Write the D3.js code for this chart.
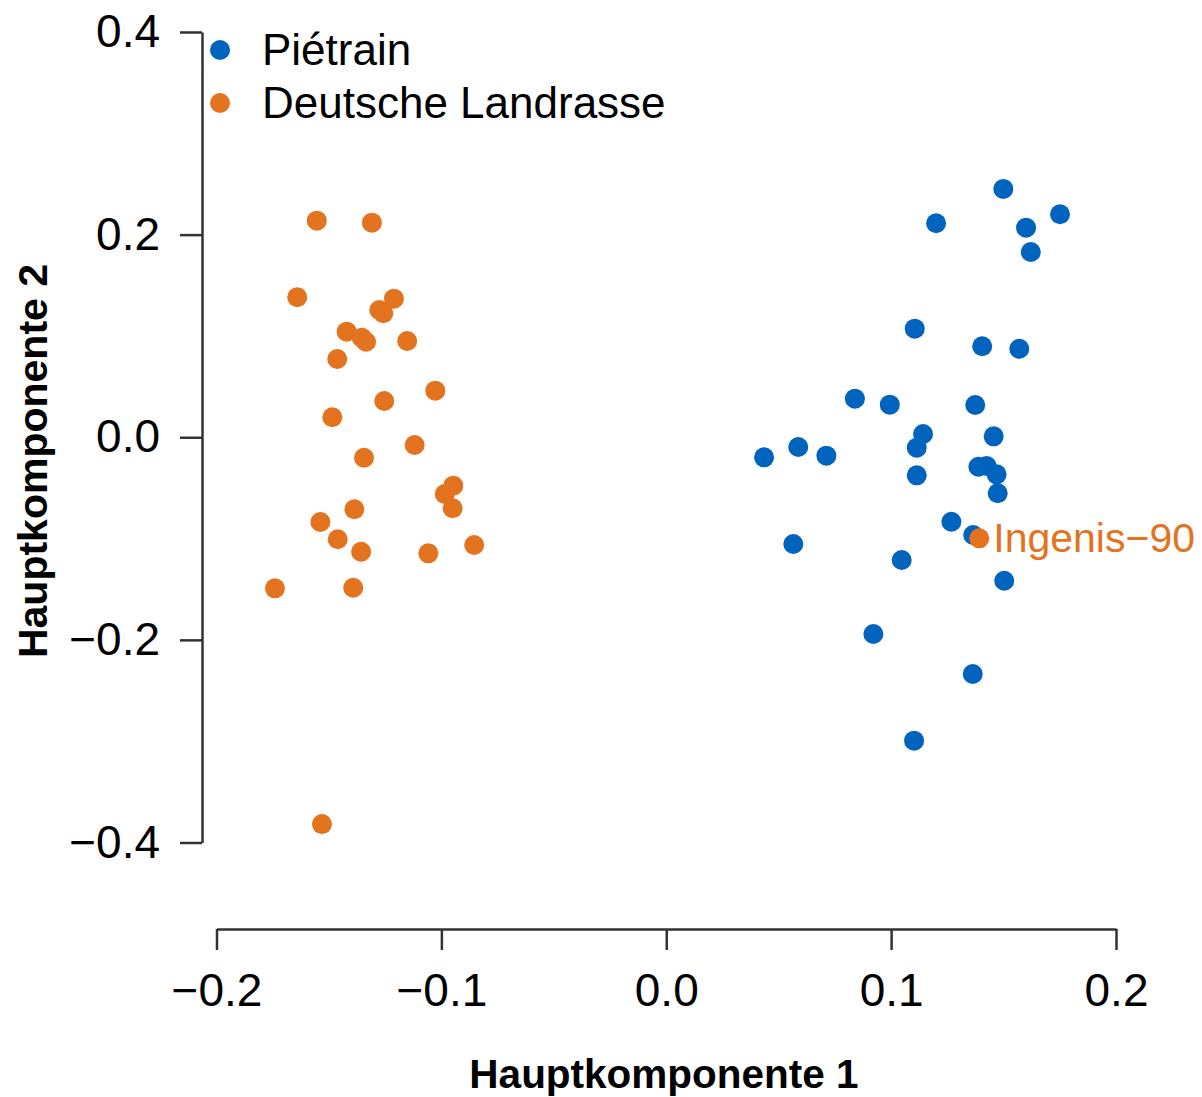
<!DOCTYPE html>
<html><head><meta charset="utf-8">
<script src="https://cdn.jsdelivr.net/npm/d3@7"></script>
<style>body{margin:0;background:#fff}svg{display:block}text{font-family:"Liberation Sans",Arial,Helvetica,sans-serif}</style>
</head><body>
<script>
const seriesNames = ["Piétrain", "Deutsche Landrasse"];
const pietrainX = [0.1499,0.1751,0.1200,0.1600,0.1621,0.1105,0.1405,0.1570,0.0839,0.0994,0.1374,0.1142,0.1456,0.1114,0.0587,0.0435,0.0712,0.1114,0.1388,0.1425,0.1469,0.1474,0.1268,0.1365,0.0565,0.1047,0.1503,0.0921,0.1363,0.1102];
const pietrainY = [0.2451,0.2201,0.2112,0.2069,0.1829,0.1072,0.0898,0.0874,0.0381,0.0322,0.0318,0.0032,0.0009,-0.0103,-0.0096,-0.0198,-0.0182,-0.0376,-0.0291,-0.0284,-0.0366,-0.0553,-0.0834,-0.0965,-0.1054,-0.1212,-0.1416,-0.1942,-0.2337,-0.2995];
const landrasseX = [-0.1554,-0.1309,-0.1641,-0.1211,-0.1276,-0.1258,-0.1421,-0.1354,-0.1335,-0.1152,-0.1463,-0.1027,-0.1254,-0.1485,-0.1119,-0.1344,-0.0947,-0.0985,-0.0950,-0.1387,-0.1538,-0.1461,-0.1357,-0.1058,-0.0854,-0.1740,-0.1392,-0.1531,0.1392];
const landrasseY = [0.2138,0.2118,0.1382,0.1368,0.1256,0.1224,0.1042,0.0983,0.0943,0.0950,0.0772,0.0460,0.0358,0.0197,-0.0077,-0.0202,-0.0478,-0.0560,-0.0701,-0.0711,-0.0837,-0.1007,-0.1130,-0.1146,-0.1064,-0.1491,-0.1485,-0.3818,-0.0998];
const labelName = "Ingenis−90";
const labelIndex = 28; // index in Landrasse arrays
const xTicks = [-0.2,-0.1,0.0,0.1,0.2];
const yTicks = [-0.4,-0.2,0.0,0.2,0.4];
const xTitle = "Hauptkomponente 1";
const yTitle = "Hauptkomponente 2";

const colors = ["#0064BF", "#E3731F"];
const W = 1202, H = 1097;
const svg = d3.select("body").append("svg").attr("width", W).attr("height", H);
const x = d3.scaleLinear().domain([-0.2, 0.2]).range([216.5, 1116]);
const y = d3.scaleLinear().domain([-0.4, 0.4]).range([842.5, 32]);
const fmt = d3.format(".1f");
const axisColor = "#333";

const gx = svg.append("g").attr("transform", "translate(0,929)")
  .call(d3.axisBottom(x).tickValues(xTicks).tickFormat(fmt).tickSizeInner(21).tickSizeOuter(0).tickPadding(23));
const gy = svg.append("g").attr("transform", "translate(202,0)")
  .call(d3.axisLeft(y).tickValues(yTicks).tickFormat(fmt).tickSizeInner(22).tickSizeOuter(0).tickPadding(20));
[gx, gy].forEach(g => {
  g.select(".domain").attr("stroke", axisColor).attr("stroke-width", 2.5);
  g.selectAll(".tick line").attr("stroke", axisColor).attr("stroke-width", 2.5);
  g.selectAll(".tick text").attr("fill", "#000").attr("font-size", 46)
    .attr("font-family", '"Liberation Sans",Arial,Helvetica,sans-serif');
});

svg.append("text").attr("x", 664).attr("y", 1088).attr("text-anchor", "middle")
  .attr("font-size", 40.5).attr("font-weight", "bold").text(xTitle);
svg.append("text").attr("transform", "translate(47,461) rotate(-90)").attr("text-anchor", "middle")
  .attr("font-size", 41).attr("font-weight", "bold").text(yTitle);

const pts = [];
pietrainX.forEach((v, i) => pts.push({x: v, y: pietrainY[i], s: 0}));
landrasseX.forEach((v, i) => pts.push({x: v, y: landrasseY[i], s: 1}));
svg.append("g").selectAll("circle").data(pts).join("circle")
  .attr("cx", d => x(d.x)).attr("cy", d => y(d.y)).attr("r", 10)
  .attr("fill", d => colors[d.s]);

svg.append("text").attr("x", x(landrasseX[labelIndex]) + 14).attr("y", y(landrasseY[labelIndex]) + 14)
  .attr("font-size", 41).attr("fill", colors[1]).text(labelName);

const leg = svg.append("g");
seriesNames.forEach((n, i) => {
  leg.append("circle").attr("cx", 220).attr("cy", 50 + i * 53).attr("r", 10).attr("fill", colors[i]);
  leg.append("text").attr("x", 262).attr("y", 50 + i * 53 + 15).attr("font-size", 44).attr("fill", "#000").text(n);
});
</script>
</body></html>
